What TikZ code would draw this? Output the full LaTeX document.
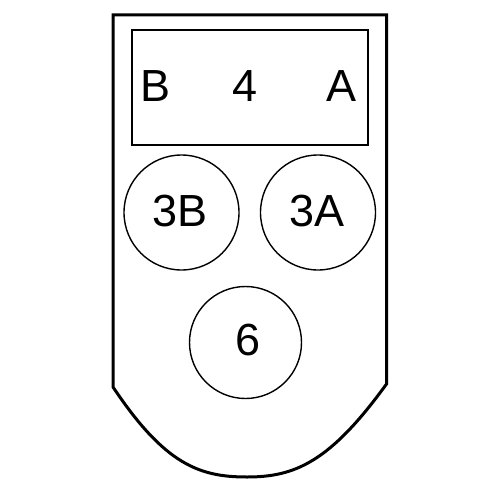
\documentclass[tikz,border=0pt]{standalone}
\usepackage{fontspec}
\setmainfont{Liberation Sans}
\begin{document}
\begin{tikzpicture}[x=1pt,y=-1pt,
  lbl/.style={font=\fontsize{45}{45}\selectfont, inner sep=0pt},
  pin/.style={draw, circle, line width=1.4pt, minimum size=115pt, inner sep=0pt}]
\useasboundingbox (0,0) rectangle (500,500);
\draw[line width=3pt, line join=miter] (113,387) -- (113,15) -- (386.5,15) -- (386.5,384)
  .. controls (330,462) and (295,477) .. (247,477)
  .. controls (200,477) and (165,465) .. cycle;
\node[draw, line width=2pt, minimum width=236pt, minimum height=115pt, inner sep=0pt] (box) at (250,87.5) {};
\node[lbl] (b) at (156,86) {B};
\node[lbl] (four) at (244.7,86) {4};
\node[lbl] (a) at (342,86) {A};
\node[pin] (p3b) at (181.5,212.5) {};
\node[pin] (p3a) at (318,212.5) {};
\node[pin, minimum size=112pt] (p6) at (245.5,342.5) {};
\node[lbl] (t3b) at (180,211) {3B};
\node[lbl] (t3a) at (316.7,211) {3A};
\node[lbl] (t6) at (248,340) {6};
\end{tikzpicture}
\end{document}
